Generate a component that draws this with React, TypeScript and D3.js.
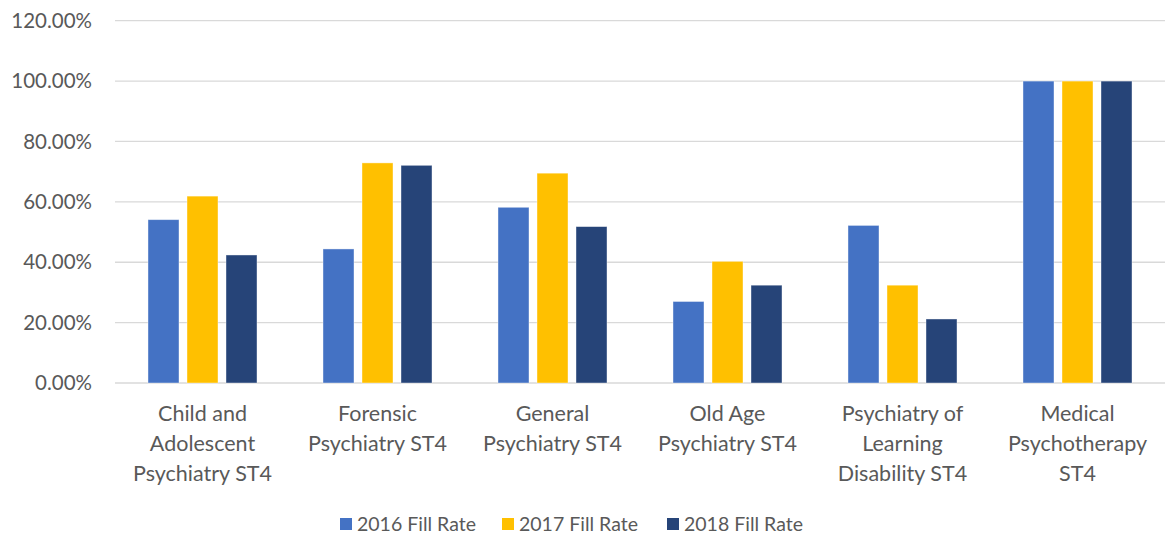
import React, { useEffect, useRef } from "react";
import * as d3 from "d3";

// category labels (line-broken as in the chart)
const categories = [
  ["Child and", "Adolescent", "Psychiatry ST4"],
  ["Forensic", "Psychiatry ST4"],
  ["General", "Psychiatry ST4"],
  ["Old Age", "Psychiatry ST4"],
  ["Psychiatry of", "Learning", "Disability ST4"],
  ["Medical", "Psychotherapy", "ST4"],
];
const seriesNames = ["2016 Fill Rate", "2017 Fill Rate", "2018 Fill Rate"];
const fill2016 = [54.1, 44.4, 58.2, 27.0, 52.2, 100];
const fill2017 = [61.9, 72.9, 69.5, 40.3, 32.4, 100];
const fill2018 = [42.4, 72.1, 51.8, 32.4, 21.2, 100];
const yTicks = [0, 20, 40, 60, 80, 100, 120];
const colors = ["#4472C4", "#FFC000", "#264478"];

const W = 1165;
const H = 544;

const App = () => {
  const svgRef = useRef<SVGSVGElement>(null);

  useEffect(() => {
    const svg = d3.select(svgRef.current);
    svg.selectAll("*").remove();
    const font = "Lato, 'Open Sans', sans-serif";
    const textColor = "#595959";

    const left = 115;
    const right = 1165;
    const top = 20.7;
    const bottom = 383;

    const keys = categories.map((c) => c.join(" "));
    const data = [fill2016, fill2017, fill2018];

    const x0 = d3.scaleBand().domain(keys).range([left, right]).padding(0);
    const x1 = d3
      .scaleBand()
      .domain(seriesNames)
      .range([0, x0.bandwidth()])
      .paddingInner(8 / 39)
      .paddingOuter(0.846);
    const y = d3.scaleLinear().domain([0, 120]).range([bottom, top]);

    // gridlines
    svg
      .append("g")
      .selectAll("line")
      .data(yTicks)
      .join("line")
      .attr("x1", left)
      .attr("x2", right)
      .attr("y1", (d) => y(d))
      .attr("y2", (d) => y(d))
      .attr("stroke", "#d9d9d9")
      .attr("stroke-width", 1.3);

    // y tick labels
    svg
      .append("g")
      .selectAll("text")
      .data(yTicks)
      .join("text")
      .attr("x", 92)
      .attr("y", (d) => y(d))
      .attr("dy", "0.35em")
      .attr("text-anchor", "end")
      .attr("font-family", font)
      .attr("font-size", 20.5)
      .attr("fill", textColor)
      .text((d) => d.toFixed(2) + "%");

    // bars
    const groups = svg
      .append("g")
      .selectAll("g")
      .data(keys)
      .join("g")
      .attr("transform", (d) => `translate(${x0(d)},0)`);

    groups
      .selectAll("rect")
      .data((_, i) => seriesNames.map((s, j) => ({ s, v: data[j][i], j })))
      .join("rect")
      .attr("x", (d) => x1(d.s)!)
      .attr("width", x1.bandwidth())
      .attr("y", (d) => y(d.v))
      .attr("height", (d) => bottom - y(d.v))
      .attr("fill", (d) => colors[d.j])
      .attr("stroke", "#ffffff")
      .attr("stroke-opacity", 0.5)
      .attr("stroke-width", 0.8);

    // category labels
    const labels = svg
      .append("g")
      .selectAll("text")
      .data(categories)
      .join("text")
      .attr("x", (_, i) => x0(keys[i])! + x0.bandwidth() / 2)
      .attr("y", 413)
      .attr("text-anchor", "middle")
      .attr("font-family", font)
      .attr("font-size", 21.5)
      .attr("fill", textColor);
    labels
      .selectAll("tspan")
      .data((d) => d)
      .join("tspan")
      .attr("x", function () {
        return (this.parentNode as SVGTextElement).getAttribute("x");
      })
      .attr("dy", (_, i) => (i === 0 ? "0.35em" : "30"))
      .text((d) => d);

    // legend
    const legendX = [340, 502, 667];
    const legend = svg
      .append("g")
      .selectAll("g")
      .data(seriesNames)
      .join("g")
      .attr("transform", (_, i) => `translate(${legendX[i]},524)`);
    legend
      .append("rect")
      .attr("x", 0)
      .attr("y", -6)
      .attr("width", 12)
      .attr("height", 12)
      .attr("fill", (_, i) => colors[i]);
    legend
      .append("text")
      .attr("x", 17)
      .attr("dy", "0.35em")
      .attr("font-family", font)
      .attr("font-size", 19.5)
      .attr("fill", textColor)
      .text((d) => d);
  }, []);

  return (
    <svg
      ref={svgRef}
      width={W}
      height={H}
      style={{ position: "absolute", left: 0, top: 0, background: "#fff" }}
    />
  );
};

export default App;
